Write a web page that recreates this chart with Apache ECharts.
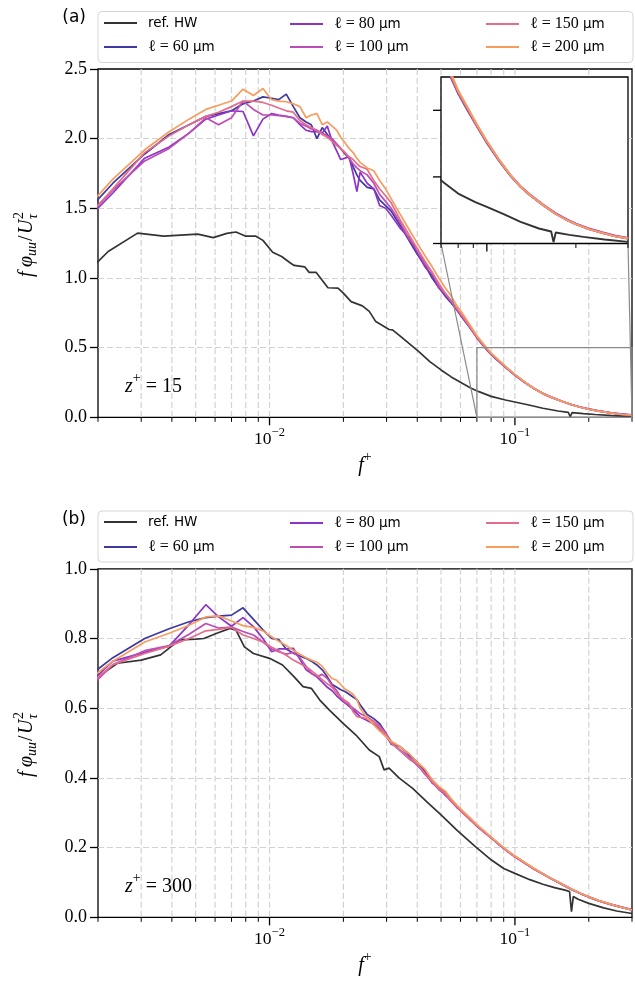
<!DOCTYPE html>
<html><head><meta charset="utf-8">
<script src="https://cdn.jsdelivr.net/npm/echarts@6/dist/echarts.min.js"></script>
<style>html,body{margin:0;padding:0;background:#fff}#c{width:635px;height:990px}</style>
</head><body><div id="c"></div>
<script>
// ---------------- data ----------------
const seriesNames = ['ref. HW', 'ℓ = 60 μm', 'ℓ = 80 μm', 'ℓ = 100 μm', 'ℓ = 150 μm', 'ℓ = 200 μm'];
const seriesColors = ['#333333', '#3d39a0', '#8c34c8', '#bd4cb5', '#e36d8a', '#f89c5e'];

// shared frequency grid (f+) for the ℓ series
const fGrid = [0.0016, 0.0023, 0.0031, 0.0039, 0.0047, 0.0055, 0.0062, 0.007, 0.0078, 0.0086,
  0.0094, 0.0102, 0.0109, 0.0117, 0.0125, 0.0133, 0.0141, 0.0148, 0.0156, 0.0164,
  0.0172, 0.018, 0.0188, 0.0195, 0.0203, 0.0211, 0.0219, 0.0227, 0.0234, 0.025,
  0.0266, 0.0281, 0.0297, 0.0313, 0.034, 0.037, 0.04, 0.043, 0.046, 0.049,
  0.052, 0.055, 0.058, 0.062, 0.066, 0.07, 0.075, 0.08, 0.086, 0.093,
  0.1, 0.11, 0.12, 0.13, 0.14, 0.155, 0.17, 0.185, 0.2, 0.22,
  0.245, 0.27, 0.3];

// panel (a) z+ = 15
const refTopF = [0.0016, 0.002, 0.0022, 0.0029, 0.0037, 0.0051, 0.0059, 0.0067, 0.0073, 0.008,
  0.0088, 0.0094, 0.0103, 0.0112, 0.0122, 0.0126, 0.0139, 0.0145, 0.0155, 0.0173,
  0.019, 0.0199, 0.0215, 0.0239, 0.0255, 0.0271, 0.0307, 0.0317, 0.0337, 0.037,
  0.0407, 0.045, 0.05, 0.055, 0.061, 0.066, 0.0713, 0.08, 0.0914, 0.1,
  0.114, 0.13, 0.15, 0.165, 0.168, 0.171, 0.19, 0.212, 0.25, 0.3];
const refTopV = [1.0, 1.118, 1.19, 1.322, 1.30, 1.315, 1.29, 1.32, 1.33, 1.30,
  1.30, 1.27, 1.185, 1.154, 1.106, 1.09, 1.08, 1.04, 1.04, 0.93,
  0.927, 0.895, 0.83, 0.80, 0.76, 0.687, 0.63, 0.627, 0.59, 0.53,
  0.47, 0.40, 0.34, 0.29, 0.244, 0.21, 0.184, 0.15, 0.124, 0.11,
  0.088, 0.065, 0.045, 0.036, 0.004, 0.033, 0.026, 0.02, 0.012, 0.005];
const topL60 = [1.38, 1.68, 1.89, 2.03, 2.10, 2.16, 2.18, 2.20, 2.25, 2.27,
  2.30, 2.29, 2.28, 2.32, 2.23, 2.15, 2.12, 2.10, 2.00, 2.08,
  2.03, 1.99, 1.96, 1.93, 1.89, 1.86, 1.80, 1.74, 1.70, 1.65,
  1.64, 1.56, 1.52, 1.48, 1.38, 1.27, 1.17, 1.09, 1.0, 0.93,
  0.87, 0.82, 0.77, 0.70, 0.635, 0.57, 0.505, 0.45, 0.40, 0.348,
  0.302, 0.248, 0.204, 0.17, 0.145, 0.115, 0.09, 0.072, 0.058, 0.044,
  0.032, 0.022, 0.015];
const topL80 = [1.33, 1.61, 1.86, 1.94, 2.04, 2.14, 2.17, 2.20, 2.195, 2.02,
  2.14, 2.18, 2.17, 2.16, 2.15, 2.10, 2.06, 2.05, 2.05, 2.04,
  2.09, 1.98, 1.91, 1.85, 1.86, 1.87, 1.75, 1.62, 1.76, 1.68,
  1.64, 1.52, 1.50, 1.45, 1.36, 1.29, 1.18, 1.08, 1.02, 0.93,
  0.88, 0.83, 0.77, 0.70, 0.64, 0.575, 0.51, 0.455, 0.405, 0.352,
  0.306, 0.251, 0.206, 0.172, 0.147, 0.117, 0.092, 0.074, 0.06, 0.046,
  0.034, 0.024, 0.017];
const topL100 = [1.35, 1.63, 1.84, 1.93, 2.04, 2.15, 2.10, 2.15, 2.27, 2.21,
  2.17, 2.17, 2.165, 2.16, 2.15, 2.11, 2.09, 2.07, 2.06, 2.04,
  2.02, 2.00, 1.96, 1.93, 1.90, 1.86, 1.82, 1.79, 1.77, 1.74,
  1.68, 1.60, 1.55, 1.50, 1.40, 1.28, 1.21, 1.10, 1.04, 0.94,
  0.89, 0.83, 0.78, 0.71, 0.64, 0.575, 0.51, 0.455, 0.404, 0.35,
  0.305, 0.25, 0.205, 0.17, 0.145, 0.115, 0.09, 0.072, 0.058, 0.044,
  0.032, 0.022, 0.015];
const topL150 = [1.33, 1.64, 1.90, 2.02, 2.10, 2.16, 2.19, 2.23, 2.27, 2.27,
  2.26, 2.24, 2.22, 2.20, 2.19, 2.13, 2.10, 2.08, 2.06, 2.03,
  2.01, 1.98, 1.95, 1.93, 1.90, 1.87, 1.85, 1.82, 1.80, 1.78,
  1.70, 1.64, 1.59, 1.54, 1.42, 1.31, 1.21, 1.12, 1.04, 0.96,
  0.89, 0.84, 0.78, 0.71, 0.64, 0.575, 0.51, 0.455, 0.405, 0.35,
  0.305, 0.25, 0.205, 0.17, 0.145, 0.115, 0.09, 0.072, 0.058, 0.044,
  0.032, 0.022, 0.015];
const topL200 = [1.40, 1.71, 1.92, 2.05, 2.14, 2.21, 2.24, 2.27, 2.355, 2.31,
  2.36, 2.28, 2.27, 2.265, 2.25, 2.23, 2.15, 2.17, 2.18, 2.10,
  2.12, 2.09, 2.06, 2.01, 1.97, 1.93, 1.90, 1.86, 1.83, 1.79,
  1.77, 1.70, 1.64, 1.57, 1.46, 1.35, 1.25, 1.16, 1.08, 1.0,
  0.93, 0.87, 0.80, 0.73, 0.655, 0.585, 0.52, 0.46, 0.41, 0.355,
  0.308, 0.252, 0.207, 0.171, 0.146, 0.116, 0.09, 0.072, 0.058, 0.044,
  0.032, 0.022, 0.015];

// panel (b) z+ = 300
const refBotF = [0.0016, 0.002, 0.0024, 0.003, 0.0036, 0.0043, 0.005, 0.0054, 0.0061, 0.0069,
  0.0073, 0.0079, 0.0086, 0.01, 0.0113, 0.0126, 0.0137, 0.0148, 0.016, 0.0175,
  0.0199, 0.0225, 0.0255, 0.028, 0.0293, 0.0307, 0.0337, 0.0383, 0.044, 0.05,
  0.058, 0.069, 0.08, 0.09, 0.1, 0.115, 0.13, 0.145, 0.16, 0.167,
  0.17, 0.173, 0.181, 0.2, 0.23, 0.26, 0.3];
const refBotV = [0.64, 0.69, 0.729, 0.738, 0.753, 0.796, 0.798, 0.80, 0.815, 0.829,
  0.824, 0.776, 0.757, 0.743, 0.724, 0.69, 0.662, 0.657, 0.624, 0.595,
  0.557, 0.523, 0.48, 0.461, 0.423, 0.428, 0.40, 0.37, 0.33, 0.294,
  0.25, 0.203, 0.165, 0.14, 0.126, 0.108, 0.095, 0.085, 0.078, 0.074,
  0.016, 0.06, 0.052, 0.04, 0.027, 0.018, 0.011];
const botL60 = [0.66, 0.745, 0.80, 0.828, 0.848, 0.86, 0.864, 0.867, 0.888, 0.855,
  0.825, 0.80, 0.797, 0.77, 0.758, 0.75, 0.743, 0.735, 0.724, 0.71,
  0.69, 0.668, 0.66, 0.653, 0.648, 0.64, 0.632, 0.625, 0.61, 0.582,
  0.57, 0.556, 0.53, 0.497, 0.49, 0.468, 0.445, 0.42, 0.392, 0.372,
  0.36, 0.336, 0.32, 0.298, 0.281, 0.262, 0.245, 0.229, 0.21, 0.19,
  0.174, 0.155, 0.138, 0.124, 0.111, 0.095, 0.08, 0.068, 0.058, 0.047,
  0.037, 0.029, 0.021];
const botL80 = [0.63, 0.735, 0.76, 0.778, 0.84, 0.897, 0.862, 0.835, 0.86, 0.834,
  0.80, 0.762, 0.77, 0.77, 0.772, 0.74, 0.71, 0.70, 0.69, 0.675,
  0.66, 0.65, 0.635, 0.625, 0.615, 0.605, 0.595, 0.585, 0.575, 0.565,
  0.555, 0.54, 0.52, 0.50, 0.48, 0.462, 0.436, 0.418, 0.385, 0.372,
  0.35, 0.337, 0.315, 0.30, 0.278, 0.264, 0.244, 0.23, 0.209, 0.191,
  0.175, 0.156, 0.139, 0.125, 0.112, 0.096, 0.081, 0.069, 0.059, 0.048,
  0.038, 0.03, 0.022];
const botL100 = [0.615, 0.725, 0.765, 0.78, 0.812, 0.843, 0.83, 0.833, 0.82, 0.81,
  0.79, 0.77, 0.762, 0.755, 0.76, 0.745, 0.72, 0.70, 0.69, 0.697,
  0.685, 0.665, 0.65, 0.632, 0.616, 0.61, 0.60, 0.592, 0.585, 0.575,
  0.562, 0.55, 0.53, 0.505, 0.478, 0.455, 0.438, 0.41, 0.388, 0.366,
  0.352, 0.332, 0.316, 0.296, 0.279, 0.261, 0.244, 0.227, 0.209, 0.19,
  0.173, 0.155, 0.138, 0.124, 0.111, 0.095, 0.08, 0.068, 0.058, 0.047,
  0.037, 0.029, 0.021];
const botL150 = [0.63, 0.725, 0.757, 0.778, 0.80, 0.822, 0.826, 0.832, 0.81, 0.80,
  0.79, 0.775, 0.765, 0.752, 0.738, 0.728, 0.718, 0.708, 0.695, 0.682,
  0.67, 0.66, 0.642, 0.632, 0.622, 0.614, 0.59, 0.576, 0.574, 0.57,
  0.563, 0.545, 0.525, 0.50, 0.48, 0.458, 0.44, 0.412, 0.39, 0.368,
  0.356, 0.333, 0.318, 0.297, 0.28, 0.263, 0.245, 0.228, 0.21, 0.19,
  0.174, 0.155, 0.138, 0.124, 0.111, 0.095, 0.08, 0.068, 0.058, 0.047,
  0.037, 0.029, 0.021];
const botL200 = [0.65, 0.735, 0.79, 0.815, 0.838, 0.862, 0.865, 0.85, 0.837, 0.832,
  0.822, 0.805, 0.792, 0.78, 0.766, 0.755, 0.745, 0.738, 0.732, 0.72,
  0.70, 0.685, 0.68, 0.668, 0.655, 0.648, 0.64, 0.625, 0.60, 0.573,
  0.552, 0.535, 0.52, 0.505, 0.49, 0.47, 0.445, 0.425, 0.395, 0.375,
  0.362, 0.34, 0.322, 0.302, 0.284, 0.266, 0.248, 0.23, 0.212, 0.192,
  0.176, 0.157, 0.14, 0.125, 0.112, 0.096, 0.081, 0.069, 0.059, 0.048,
  0.038, 0.029, 0.021];

// axis ticks
const xMajorTicks = [0.01, 0.1];
const xMinorTicks = [0.002, 0.003, 0.004, 0.005, 0.006, 0.007, 0.008, 0.009,
  0.02, 0.03, 0.04, 0.05, 0.06, 0.07, 0.08, 0.09, 0.2, 0.3];
const insetXMajor = [0.1];
const insetXMinor = [0.07, 0.08, 0.09, 0.2, 0.3];
const insetYTicks = [0, 0.2, 0.4];
const zoomBox = { f0: 0.07, f1: 0.3, v0: 0, v1: 0.5 };

// ---------------- chart ----------------
const chart = echarts.init(document.getElementById('c'), null, { renderer: 'canvas' });
const SERIF = 'Liberation Serif';
const SANS = 'DejaVu Sans';

function lineSeries(name, color, fs, vs, idx, z, width) {
  return {
    type: 'line', name, xAxisIndex: idx, yAxisIndex: idx, z,
    data: fs.map((f, i) => [f, vs[i]]),
    symbol: 'none', showSymbol: false, clip: true, silent: true,
    lineStyle: { color, width }, itemStyle: { color }, emphasis: { disabled: true }
  };
}
function tickSeries(idx, entries, withGrid, z) {
  return {
    type: 'custom', xAxisIndex: idx, yAxisIndex: idx, z, silent: true, clip: false,
    data: entries,
    renderItem(params, api) {
      const cs = params.coordSys;
      const p = api.coord([api.value(0), api.value(1)]);
      const major = api.value(2) === 1;
      const orient = api.value(3);
      const len = major ? 8 : 4.5;
      const w = major ? 1.3 : 1.0;
      const ch = [];
      if (orient === 0) {
        const bottom = cs.y + cs.height;
        if (withGrid && p[0] > cs.x + 1 && p[0] < cs.x + cs.width - 1) {
          ch.push({ type: 'line', shape: { x1: p[0], y1: cs.y, x2: p[0], y2: bottom },
            style: { stroke: '#d2d2d2', lineWidth: 1.2, lineDash: [6, 3] } });
        }
        ch.push({ type: 'line', shape: { x1: p[0], y1: bottom, x2: p[0], y2: bottom + len },
          style: { stroke: '#000', lineWidth: w } });
      } else {
        ch.push({ type: 'line', shape: { x1: cs.x - len, y1: p[1], x2: cs.x, y2: p[1] },
          style: { stroke: '#000', lineWidth: w } });
      }
      return { type: 'group', children: ch };
    }
  };
}
const mainTicks = xMajorTicks.map(v => [v, 0, 1, 0]).concat(xMinorTicks.map(v => [v, 0, 0, 0]));
const insetTicks = insetXMajor.map(v => [v, 0, 1, 0]).concat(insetXMinor.map(v => [v, 0, 0, 0]))
  .concat(insetYTicks.map(v => [zoomBox.f0, v, 1, 1]));

function decadeFormatter(v) {
  const l = Math.log10(v); const e = Math.round(l);
  if (Math.abs(l - e) > 1e-6) return '';
  return '{b|10}{s|−' + (-e) + '}';
}
const xRich = {
  b: { fontFamily: SERIF, fontSize: 17.5, lineHeight: 22, verticalAlign: 'bottom', color: '#000' },
  s: { fontFamily: SERIF, fontSize: 12.5, lineHeight: 22, verticalAlign: 'top', color: '#000' }
};
function mainX(gi) {
  return { type: 'log', logBase: 10, gridIndex: gi, min: 0.002, max: 0.3,
    axisLine: { show: false }, axisTick: { show: false }, splitLine: { show: false }, minorTick: { show: false },
    axisLabel: { formatter: decadeFormatter, rich: xRich, margin: 9, showMinLabel: true, showMaxLabel: true } };
}
function mainY(gi, max, interval) {
  return { type: 'value', gridIndex: gi, min: 0, max, interval,
    axisLine: { show: false },
    axisTick: { show: true, length: 8, inside: false, lineStyle: { color: '#000', width: 1.3 } },
    axisLabel: { fontFamily: SERIF, fontSize: 18, color: '#000', margin: 11,
      formatter: v => v.toFixed(1) },
    splitLine: { show: true, showMinLine: false, showMaxLine: false,
      lineStyle: { color: '#d2d2d2', width: 1.2, type: [6, 3] } } };
}

const series = [];
const topVals = [refTopV, topL60, topL80, topL100, topL150, topL200];
const botVals = [refBotV, botL60, botL80, botL100, botL150, botL200];
series.push(tickSeries(0, mainTicks, true, 1));
series.push(tickSeries(1, mainTicks, true, 1));
for (let k = 0; k < 6; k++) {
  series.push(lineSeries(seriesNames[k], seriesColors[k], k === 0 ? refTopF : fGrid, topVals[k], 0, 2, 1.7));
}
for (let k = 0; k < 6; k++) {
  series.push(lineSeries(seriesNames[k], seriesColors[k], k === 0 ? refBotF : fGrid, botVals[k], 1, 2, 1.7));
}
for (let k = 0; k < 6; k++) {
  series.push(lineSeries(seriesNames[k], seriesColors[k], k === 0 ? refTopF : fGrid, topVals[k], 2, 5, 1.9));
}
series.push(tickSeries(2, insetTicks, false, 6));

// legends: 3 columns, column-major
const legCols = [104, 290, 486];
function legendFor(top1, top2) {
  const out = [];
  const rows = [top1, top2];
  for (let k = 0; k < 6; k++) {
    const col = Math.floor(k / 2), row = k % 2;
    out.push({
      data: [seriesNames[k]], left: legCols[col], top: rows[row] - 9, icon: 'rect',
      itemWidth: 33, itemHeight: 2, padding: 0, selectedMode: false, z: 4,
      formatter: n => {
        const m = n.match(/ℓ = (\d+) μm/);
        return m ? '{m|ℓ = ' + m[1] + '}{u| μm}' : '{u|' + n + '}';
      },
      textStyle: { color: '#000', padding: [0, 0, 0, 6],
        rich: { m: { fontFamily: SERIF, fontSize: 16, color: '#000', lineHeight: 18 },
                u: { fontFamily: SANS, fontSize: 13.5, color: '#000', lineHeight: 18 } } }
    });
  }
  return out;
}

function zText(id, x, y, num) {
  return { type: 'text', id, x, y, z: 10,
    style: { text: '{i|z}{p|+}{n| = ' + num + '}', align: 'left', verticalAlign: 'middle',
      textAlign: 'left', textVerticalAlign: 'middle',
      rich: { i: { fontFamily: SERIF, fontStyle: 'italic', fontSize: 20, lineHeight: 26, verticalAlign: 'bottom', fill: '#000', color: '#000' },
              p: { fontFamily: SERIF, fontSize: 14, lineHeight: 26, verticalAlign: 'top', fill: '#000', color: '#000' },
              n: { fontFamily: SERIF, fontSize: 20, lineHeight: 26, verticalAlign: 'bottom', fill: '#000', color: '#000' } } } };
}
function fPlus(id, x, y) {
  return { type: 'text', id, x, y, z: 10,
    style: { text: '{i|f}{p|+}', align: 'center', verticalAlign: 'middle', textAlign: 'center', textVerticalAlign: 'middle',
      rich: { i: { fontFamily: SERIF, fontStyle: 'italic', fontSize: 20, lineHeight: 26, verticalAlign: 'bottom', fill: '#000', color: '#000' },
              p: { fontFamily: SERIF, fontSize: 14, lineHeight: 26, verticalAlign: 'top', fill: '#000', color: '#000' } } } };
}
function t(text, x, y, size, italic) {
  return { type: 'text', style: { text, x, y, fontFamily: SERIF, fontSize: size, fontStyle: italic ? 'italic' : 'normal',
    fill: '#000', align: 'left', verticalAlign: 'middle', textAlign: 'left', textVerticalAlign: 'middle' } };
}
function yName(id, cx, cy) {
  const half = 34;
  return { type: 'group', id, x: cx, y: cy + half, rotation: Math.PI / 2, z: 10,
    children: [
      t('f', 0, 0, 20, true), t('φ', 10, 0, 20, true), t('uu', 21, 5, 14, true),
      t('/', 36, 0, 20, false), t('U', 43, 0, 20, true),
      t('2', 58, -8, 14, false), t('τ', 58, 6, 14, true)
    ] };
}
function panelLabel(id, text, x, y) {
  return { type: 'text', id, x, y, z: 10,
    style: { text, fontFamily: SANS, fontSize: 17, fill: '#000', align: 'right', verticalAlign: 'middle',
      textAlign: 'right', textVerticalAlign: 'middle' } };
}

const option = {
  animation: false,
  backgroundColor: '#fff',
  color: seriesColors,
  grid: [
    { left: 98, top: 69, width: 535, height: 348.3, show: true, borderColor: '#000', borderWidth: 1.3, backgroundColor: 'rgba(0,0,0,0)', z: 0 },
    { left: 98, top: 568.8, width: 535, height: 348.5, show: true, borderColor: '#000', borderWidth: 1.3, backgroundColor: 'rgba(0,0,0,0)', z: 0 },
    { left: 441, top: 77, width: 187, height: 166.5, show: true, borderColor: '#000', borderWidth: 1.3, backgroundColor: '#fff', z: 3 }
  ],
  xAxis: [mainX(0), mainX(1),
    { type: 'log', logBase: 10, gridIndex: 2, min: zoomBox.f0, max: zoomBox.f1, z: 4,
      axisLine: { show: false }, axisTick: { show: false }, axisLabel: { show: false }, splitLine: { show: false } }],
  yAxis: [mainY(0, 2.5, 0.5), mainY(1, 1.0, 0.2),
    { type: 'value', gridIndex: 2, min: zoomBox.v0, max: zoomBox.v1, z: 4,
      axisLine: { show: false }, axisTick: { show: false }, axisLabel: { show: false }, splitLine: { show: false } }],
  legend: legendFor(25, 48).concat(legendFor(524, 548)),
  series,
  graphic: [
    { type: 'rect', id: 'legboxA', z: 1, shape: { x: 98, y: 11.5, width: 535, height: 51, r: 4 },
      style: { fill: '#fff', stroke: '#d6d6d6', lineWidth: 1 } },
    { type: 'rect', id: 'legboxB', z: 1, shape: { x: 98, y: 511, width: 535, height: 51, r: 4 },
      style: { fill: '#fff', stroke: '#d6d6d6', lineWidth: 1 } },
    panelLabel('pa', '(a)', 86, 18),
    panelLabel('pb', '(b)', 86, 520),
    zText('za', 125, 384, '15'),
    zText('zb', 125, 884, '300'),
    fPlus('fa', 365, 463),
    fPlus('fb', 365, 963),
    yName('ya', 27, 243),
    yName('yb', 27, 743)
  ]
};
chart.setOption(option);

// zoom indicator (inset) computed through the axes
const p0 = chart.convertToPixel({ xAxisIndex: 0, yAxisIndex: 0 }, [zoomBox.f0, zoomBox.v0]);
const p1 = chart.convertToPixel({ xAxisIndex: 0, yAxisIndex: 0 }, [zoomBox.f1, zoomBox.v1]);
const q0 = chart.convertToPixel({ xAxisIndex: 2, yAxisIndex: 2 }, [zoomBox.f0, zoomBox.v0]);
const q1 = chart.convertToPixel({ xAxisIndex: 2, yAxisIndex: 2 }, [zoomBox.f1, zoomBox.v0]);
const gray = { stroke: '#8a8a8a', lineWidth: 1.2, fill: null };
chart.setOption({ graphic: [
  { type: 'rect', id: 'zrect', z: 6, shape: { x: p0[0], y: p1[1], width: p1[0] - p0[0], height: p0[1] - p1[1] }, style: gray },
  { type: 'line', id: 'zc1', z: 6, shape: { x1: q0[0], y1: q0[1], x2: p0[0], y2: p0[1] }, style: gray },
  { type: 'line', id: 'zc2', z: 6, shape: { x1: q1[0], y1: q1[1], x2: p1[0], y2: p0[1] }, style: gray }
] });
</script>
</body></html>
